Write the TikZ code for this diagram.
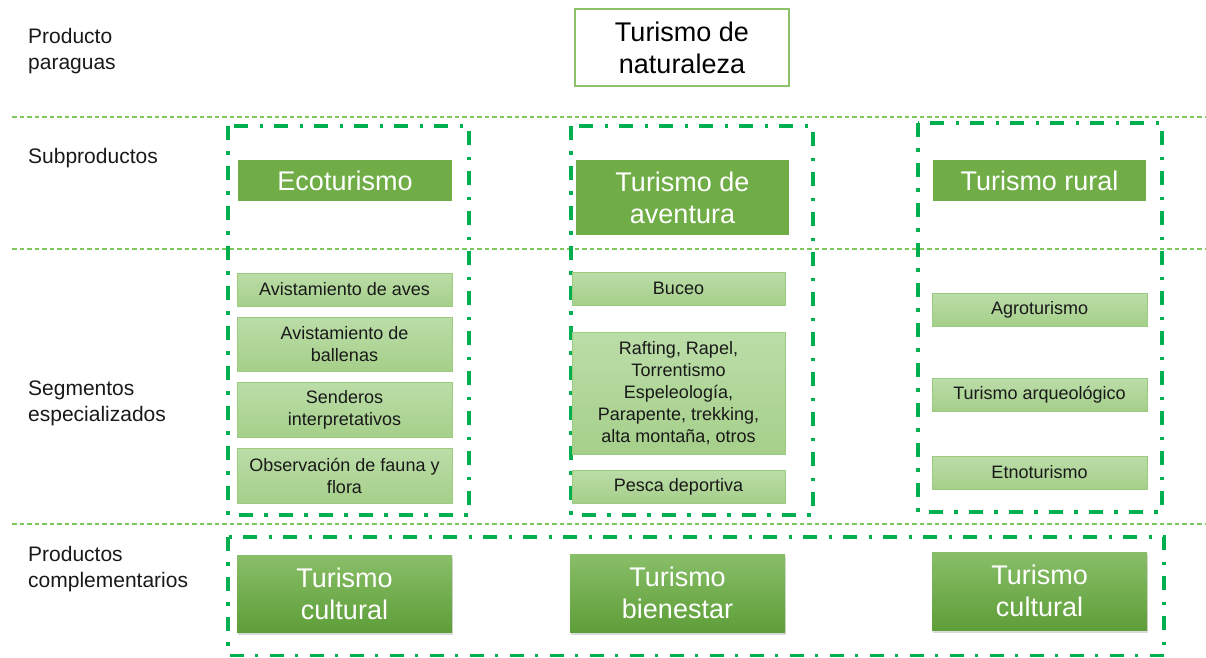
\documentclass[tikz,border=0pt]{standalone}
\usepackage{fontspec}
\setmainfont{Liberation Sans}
\usetikzlibrary{shadows}
\definecolor{lineG}{HTML}{7EC75A}
\definecolor{grpG}{HTML}{00B050}
\definecolor{subG}{HTML}{70AD47}
\definecolor{segT}{HTML}{BBDDA8}
\definecolor{segB}{HTML}{A5CF8A}
\definecolor{segD}{HTML}{9CCB80}
\definecolor{compT}{HTML}{88BE68}
\definecolor{compB}{HTML}{5E9E38}
\definecolor{topD}{HTML}{8CC26B}
\tikzset{
  lbl/.style={anchor=west, align=left, inner sep=0pt, text=black!90, font=\fontsize{21}{26}\selectfont},
  hline/.style={draw=lineG, line width=1.2pt, dash pattern=on 4.5pt off 3pt},
  grp/.style={draw=grpG, line width=3.2pt, dash pattern=on 14pt off 11pt on 3.5pt off 11.5pt},
  topbox/.style={draw=topD, line width=1.5pt, fill=white, align=center, inner sep=0pt, text=black, font=\fontsize{27}{32}\selectfont},
  subbox/.style={fill=subG, text=white, align=center, inner sep=0pt, font=\fontsize{27}{32}\selectfont},
  segbox/.style={top color=segT, bottom color=segB, draw=segD, line width=0.6pt, align=center, inner sep=0pt, text=black!90, font=\fontsize{18}{22}\selectfont},
  compbox/.style={top color=compT, bottom color=compB, text=white, align=center, inner sep=0pt, font=\fontsize{27}{32}\selectfont, drop shadow={shadow xshift=1pt, shadow yshift=-2.5pt, opacity=0.3}},
}
\begin{document}
\begin{tikzpicture}[x=1pt,y=-1pt]
\useasboundingbox (0,0) rectangle (1206,657);
% horizontal separators
\coordinate (h1a) at (12,117); \coordinate (h1b) at (1206,117);
\coordinate (h2a) at (12,249); \coordinate (h2b) at (1206,249);
\coordinate (h3a) at (12,524); \coordinate (h3b) at (1206,524);
\draw[hline] (h1a) -- (h1b);
\draw[hline] (h2a) -- (h2b);
\draw[hline] (h3a) -- (h3b);
% row labels
\node[lbl] (l1) at (28,51) {Producto\\paraguas};
\node[lbl] (l2) at (28,158) {Subproductos};
\node[lbl] (l3) at (28,403) {Segmentos\\especializados};
\node[lbl] (l4) at (28,569) {Productos\\complementarios};
% group frames
\draw[grp] (228,126) rectangle (469,515);
\draw[grp] (571,126) rectangle (813,515);
\draw[grp] (918,123) rectangle (1162,512);
\draw[grp] (228,537) rectangle (1164,655.5);
% umbrella product
\node[topbox, minimum width=214pt, minimum height=77pt] (top) at (682,47.5) {Turismo de\\naturaleza};
% subproducts
\node[subbox, minimum width=214pt, minimum height=41pt] (eco) at (345,180.5) {Ecoturismo};
\node[subbox, minimum width=213pt, minimum height=75pt] (ave) at (682.5,197.5) {Turismo de\\aventura};
\node[subbox, minimum width=213pt, minimum height=41pt] (rur) at (1039.5,180.5) {Turismo rural};
% segments left
\node[segbox, minimum width=215pt, minimum height=33pt] (s1) at (344.5,289.5) {Avistamiento de aves};
\node[segbox, minimum width=215pt, minimum height=54pt] (s2) at (344.5,344) {Avistamiento de\\ballenas};
\node[segbox, minimum width=215pt, minimum height=55pt] (s3) at (344.5,409.5) {Senderos\\interpretativos};
\node[segbox, minimum width=215pt, minimum height=55pt] (s4) at (344.5,475.5) {Observación de fauna y\\flora};
% segments middle
\node[segbox, minimum width=213pt, minimum height=33pt] (m1) at (678.5,288.5) {Buceo};
\node[segbox, minimum width=213pt, minimum height=122pt] (m2) at (678.5,393) {Rafting, Rapel,\\Torrentismo\\Espeleología,\\Parapente, trekking,\\alta montaña, otros};
\node[segbox, minimum width=213pt, minimum height=33pt] (m3) at (678.5,486.5) {Pesca deportiva};
% segments right
\node[segbox, minimum width=215pt, minimum height=33pt] (r1) at (1039.5,309.5) {Agroturismo};
\node[segbox, minimum width=215pt, minimum height=33pt] (r2) at (1039.5,394.5) {Turismo arqueológico};
\node[segbox, minimum width=215pt, minimum height=33pt] (r3) at (1039.5,472.5) {Etnoturismo};
% complementary products
\node[compbox, minimum width=215pt, minimum height=77pt] (c1) at (344.5,593.5) {Turismo\\cultural};
\node[compbox, minimum width=215pt, minimum height=78pt] (c2) at (677.5,593) {Turismo\\bienestar};
\node[compbox, minimum width=215pt, minimum height=78pt] (c3) at (1039.5,591) {Turismo\\cultural};
\end{tikzpicture}
\end{document}
